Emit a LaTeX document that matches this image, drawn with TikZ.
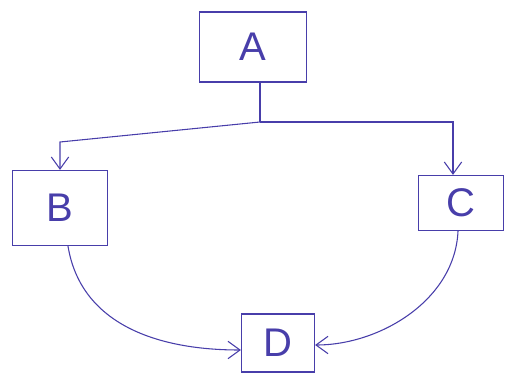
\documentclass[tikz,border=0pt]{standalone}
\usepackage{fontspec}
\setmainfont{Liberation Sans}
\usetikzlibrary{arrows.meta}
\definecolor{ink}{RGB}{72,62,170}
\begin{document}
\begin{tikzpicture}[x=0.75pt,y=-0.75pt,
  box/.style={draw=ink,line width=0.9pt,inner sep=0pt,text=ink,font=\fontsize{30}{30}\selectfont},
  conn/.style={draw=ink,line width=0.8pt},
  tip/.style={-{Straight Barb[length=9pt,width=13pt,line width=0.8pt]}}]
\useasboundingbox[fill=white] (0,0) rectangle (506,378);
\node[box,minimum width=80.25pt,minimum height=52.5pt] (A) at (253,47) {A};
\node[box,minimum width=71.25pt,minimum height=56.25pt] (B) at (60,208) {B};
\node[box,minimum width=63.75pt,minimum height=41.25pt] (C) at (461,203) {C};
\node[box,minimum width=54.75pt,minimum height=43.5pt] (D) at (278,343) {D};
\coordinate (J) at (260,122);
\coordinate (L) at (60,142);
\coordinate (R) at (453,122);
\draw[conn] (J |- A.south) -- (J);
\draw[conn,tip] (J) -- (L) -- (L |- B.north);
\draw[conn,tip] (J) -- (R) -- (R |- C.north);
\draw[conn,tip] (68,0 |- B.south) .. controls (80,320) and (150,350) .. (D.west |- 0,350);
\draw[conn,tip] (458,0 |- C.south) .. controls (455,300) and (380,345) .. (D.east |- 0,345);
\end{tikzpicture}
\end{document}
